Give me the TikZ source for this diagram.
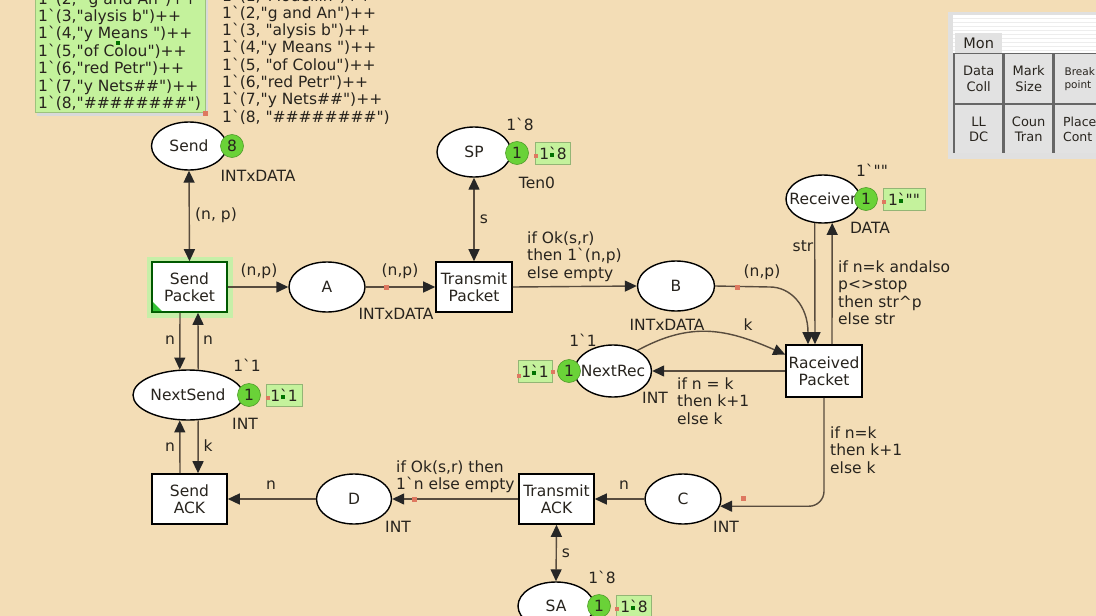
\documentclass[tikz,border=0pt]{standalone}
\usepackage{fontspec}
\setmainfont{DejaVu Sans}[Ligatures=TeXOff]
\usetikzlibrary{arrows.meta,shapes.geometric}
\definecolor{bgc}{RGB}{243,221,182}
\definecolor{arccol}{RGB}{88,76,62}
\definecolor{txtc}{RGB}{40,36,30}
\definecolor{tokgreen}{RGB}{106,210,56}
\definecolor{mkgreen}{RGB}{196,242,156}
\definecolor{dotc}{RGB}{222,120,96}
\definecolor{glowc}{RGB}{160,228,110}
\definecolor{cellc}{RGB}{226,226,226}
\begin{document}
\begin{tikzpicture}[x=1pt,y=-1pt,
  every node/.style={font=\fontsize{15.5}{17.4}\selectfont, text=txtc},
  placest/.style={ellipse, draw=black, line width=1.4pt, fill=white, minimum width=76pt, minimum height=50pt, inner sep=0pt},
  transst/.style={rectangle, draw=black, line width=1.6pt, fill=white, minimum width=75pt, minimum height=50pt, inner sep=0pt, align=center},
  arcst/.style={draw=arccol, line width=1.4pt, -{Triangle[length=12pt,width=11pt,color=black!85]}},
  barcst/.style={draw=arccol, line width=1.4pt, {Triangle[length=12pt,width=11pt,color=black!85]}-{Triangle[length=12pt,width=11pt,color=black!85]}},
  tokst/.style={circle, fill=tokgreen, draw=tokgreen!75!black, line width=0.6pt, minimum size=23pt, inner sep=0pt},
  mkbox/.style={rectangle, fill=mkgreen, draw=mkgreen!75!black, line width=0.6pt, minimum height=22pt, inner sep=1pt},
  lbl/.style={inner sep=0pt},
  mlbl/.style={inner sep=0pt, anchor=north west, align=left},
  dotst/.style={rectangle, fill=dotc, minimum size=5pt, inner sep=0pt},
  gdot/.style={rectangle, fill=green!45!black, minimum size=4pt, inner sep=0pt},
  cell/.style={rectangle, fill=cellc, inner sep=0pt, align=center, font=\fontsize{13}{15.5}\selectfont}
]
\fill[bgc] (0,0) rectangle (1096,616);
\useasboundingbox (0,0) rectangle (1096,616);

% initial marking box (top left)
\fill[black!15] (37,-5) rectangle (208,116);
\node[rectangle, fill=mkgreen, draw=mkgreen!80!black, line width=0.6pt, minimum width=170pt, minimum height=130pt, anchor=south west] (initbox) at (35,113) {};
\node[dotst] (initdot) at (205,113) {};
\node[gdot] (initg) at (118,43) {};
\foreach \t [count=\i from 0] in {{1`(2, "g and An")++},{1`(3,"alysis b")++},{1`(4,"y Means ")++},{1`(5,"of Colou")++},{1`(6,"red Petr")++},{1`(7,"y Nets\#\#")++},{1`(8,"\#\#\#\#\#\#\#\#")}}
  \node[lbl, anchor=base west] (lt\i) at (38,4+17.45*\i) {\t};
\foreach \t [count=\i from 0] in {{1`(1,"Modellin")++},{1`(2,"g and An")++},{1`(3, "alysis b")++},{1`(4,"y Means ")++},{1`(5, "of Colou")++},{1`(6,"red Petr")++},{1`(7,"y Nets\#\#")++},{1`(8, "\#\#\#\#\#\#\#\#")}}
  \node[lbl, anchor=base west] (rt\i) at (222,1+17.3*\i) {\t};

% places
\node[placest, minimum width=75pt, minimum height=48pt] (send) at (189,146) {Send};
\node[placest, minimum width=74pt] (sp) at (474,152) {SP};
\node[placest] (a) at (327,287) {A};
\node[placest, minimum width=77pt] (b) at (676,286) {B};
\node[placest, minimum width=74pt, minimum height=48pt] (receiver) at (823,199) {\makebox[0pt]{Receiver}};
\node[placest, minimum width=77pt, minimum height=52pt] (nextrec) at (613,371) {\makebox[0pt]{NextRec}};
\node[placest, minimum width=110pt] (nextsend) at (188,395) {\makebox[0pt]{NextSend}};
\node[placest, minimum width=75pt] (d) at (354,499) {D};
\node[placest] (c) at (683,499) {C};
\node[placest, minimum height=48pt] (sa) at (556,606) {SA};

% transitions
\draw[glowc!60!white, line width=5pt] (149,259) rectangle (230,315);
\node[transst, draw=green!35!black] (sendpacket) at (189.5,287) {Send\\Packet};
\fill[green!70!black!80!white] (153,311) -- (153,302) -- (162,311) -- cycle;
\node[transst, minimum width=76pt] (tp) at (474,287) {Transmit\\Packet};
\node[transst, minimum width=76pt, minimum height=52pt] (rp) at (824,371) {Raceived\\Packet};
\node[transst] (sendack) at (189.5,499) {Send\\ACK};
\node[transst] (ta) at (556.5,499) {Transmit\\ACK};

% tokens and markings
\node[tokst] (sendtok) at (232,146) {8};
\node[lbl] (sendtype) at (258,176) {INTxDATA};

\node[mkbox, minimum width=35pt] (spmk) at (553,153) {1`8};
\node[gdot] (spg) at (552,155) {};
\node[tokst] (sptok) at (517,153) {1};
\node[lbl] (spinit) at (520,124) {1`8};
\node[lbl] (sptype) at (537,183) {Ten0};
\node[dotst, minimum size=4pt] (spd) at (536,156) {};

\node[lbl] (atype) at (396,314) {INTxDATA};
\node[lbl] (btype) at (667,325) {INTxDATA};

\node[mkbox, minimum width=42pt] (recmk) at (904,199) {1`""};
\node[gdot] (recg) at (901,201) {};
\node[tokst] (rectok) at (866,199) {1};
\node[lbl] (recinit) at (872,170) {1`""};
\node[lbl] (rectype) at (870,228) {DATA};
\node[dotst, minimum size=4pt] (recd) at (884,202) {};

\node[mkbox, minimum width=34pt] (nrmk) at (535,371) {1`1};
\node[gdot] (nrg) at (534,373) {};
\node[tokst] (nrtok) at (569,371) {1};
\node[lbl] (nrinit) at (583,340) {1`1};
\node[lbl] (nrtype) at (655,398) {INT};
\node[dotst, minimum size=4pt] (nrd1) at (553,372) {};
\node[dotst, minimum size=4pt] (nrd2) at (519,376) {};

\node[mkbox, minimum width=36pt] (nsmk) at (284,395) {1`1};
\node[gdot] (nsg) at (283,397) {};
\node[tokst] (nstok) at (249,395) {1};
\node[lbl] (nsinit) at (247,365) {1`1};
\node[lbl] (nstype) at (245,424) {INT};
\node[dotst, minimum size=4pt] (nsd) at (268,398) {};

\node[mkbox, minimum width=35pt] (samk) at (634,606) {1`8};
\node[gdot] (sag) at (633,608) {};
\node[tokst] (satok) at (599,606) {1};
\node[lbl] (sainit) at (602,577) {1`8};
\node[dotst, minimum size=4pt] (sad) at (617,609) {};

\node[lbl] (dtype) at (398,527) {INT};
\node[lbl] (ctype) at (726,527) {INT};

% arcs
\draw[barcst] (send.south) -- (sendpacket.north);
\node[lbl] (l1) at (216,215) {(n, p)};
\draw[arcst] (sendpacket.east) -- (a.west);
\node[lbl] (l2) at (259,271) {(n,p)};
\draw[arcst] (a.east) -- (tp.west);
\node[lbl] (l3) at (400,271) {(n,p)};
\node[dotst] (d3) at (386,287) {};
\draw[barcst] (sp.south) -- (tp.north);
\node[lbl] (l4) at (484,219) {s};
\draw[arcst] (tp.east) -- (b.west);
\node[mlbl] (l5) at (527,231.5) {if Ok(s,r)\\then 1`(n,p)\\else empty};
\draw[arcst] (b.east) -- (770,287) .. controls (790,287) and (808,305) .. ([xshift=-16pt]rp.north);
\node[lbl] (l6) at (762,272) {(n,p)};
\node[dotst] (d6) at (737,287) {};
\draw[arcst] (receiver.251) -- ([xshift=-9pt]rp.north);
\node[lbl] (l7) at (803,246) {str};
\draw[arcst] ([xshift=8pt]rp.north) -- (receiver.291);
\node[mlbl] (l8) at (838,260.5) {if n=k andalso\\p<>stop\\then str\textasciicircum p\\else str};
\draw[arcst] (rp.west) -- (nextrec.east);
\node[mlbl] (l9) at (677,377.5) {if n = k\\then k+1\\else k};
\draw[arcst] (nextrec.40) .. controls (690,322) and (725,328) .. (rp.157);
\node[lbl] (l10) at (748,325) {k};
\draw[arcst, rounded corners=15pt] (rp.south) |- (c.349);
\node[mlbl] (l11) at (830,426.5) {if n=k\\then k+1\\else k};
\node[dotst] (d11) at (743,498) {};
\draw[arcst] (c.west) -- (ta.east);
\node[lbl] (l12) at (624,485) {n};
\draw[arcst] (ta.west) -- (d.east);
\node[mlbl] (l13) at (396,460.5) {if Ok(s,r) then\\1`n else empty};
\node[dotst] (d13) at (414,499) {};
\draw[arcst] (d.west) -- (sendack.east);
\node[lbl] (l14) at (271,485) {n};
\draw[barcst] (ta.south) -- (sa.north);
\node[lbl] (l15) at (566,553) {s};
\draw[arcst] ([xshift=-9.5pt]sendpacket.south) -- (nextsend.108);
\node[lbl] (l16) at (170,340) {n};
\draw[arcst] (nextsend.68) -- ([xshift=8.5pt]sendpacket.south);
\node[lbl] (l17) at (208,340) {n};
\draw[arcst] ([xshift=-9.5pt]sendack.north) -- (nextsend.252);
\node[lbl] (l18) at (170,447) {n};
\draw[arcst] (nextsend.292) -- ([xshift=8.5pt]sendack.north);
\node[lbl] (l19) at (208,446) {k};

% monitor palette
\fill[black!25] (950,14) rectangle (1100,157);
\fill[black!12] (948,12) rectangle (1100,159);
\fill[white] (953,15) rectangle (1100,153);
\foreach \yy in {18,22,26,30,34,38,42,46,50} \draw[black!7, line width=1pt] (953,\yy) -- (1100,\yy);
\node[rectangle, fill=cellc, minimum width=47pt, minimum height=20pt, inner sep=0pt, anchor=north west, font=\fontsize{14.5}{16}\selectfont] (montab) at (955,33) {Mon};
\fill[black!60] (953,53) rectangle (1100,153);
\node[cell, minimum width=47pt, minimum height=49pt, anchor=north west] (c11) at (955,54) {Data\\Coll};
\node[cell, minimum width=47pt, minimum height=49pt, anchor=north west] (c12) at (1005,54) {Mark\\Size};
\node[cell, minimum width=45pt, minimum height=49pt, anchor=north west, font=\fontsize{10.5}{13}\selectfont, align=left] (c13) at (1055,54) {\hspace*{4pt}Break\\\hspace*{4pt}point};
\node[cell, minimum width=47pt, minimum height=48pt, anchor=north west] (c21) at (955,105) {LL\\DC};
\node[cell, minimum width=47pt, minimum height=48pt, anchor=north west] (c22) at (1005,105) {Coun\\Tran};
\node[cell, minimum width=45pt, minimum height=48pt, anchor=north west, font=\fontsize{12.5}{15}\selectfont, align=left] (c23) at (1055,105) {\hspace*{4pt}Place\\\hspace*{4pt}Cont};
\end{tikzpicture}
\end{document}
